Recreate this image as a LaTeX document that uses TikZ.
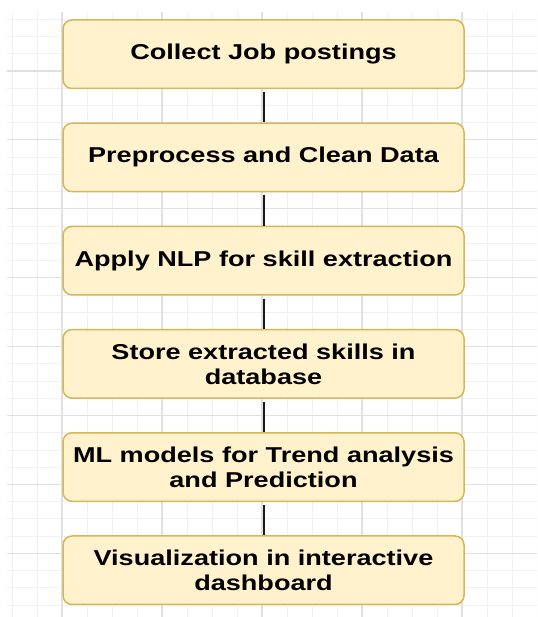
\documentclass[tikz,border=0pt]{standalone}
\usepackage{fontspec}
\newfontfamily\flowfont{Liberation Sans}[FakeStretch=1.26]
\usetikzlibrary{positioning}
\definecolor{cBox}{HTML}{FFF2CC}
\definecolor{cBorder}{HTML}{D6B656}
\definecolor{cGridMinor}{HTML}{F1F1F1}
\definecolor{cGridMajor}{HTML}{E0E0E0}
\definecolor{cLink}{HTML}{1A1A1A}
\tikzset{
  stepbox/.style={
    rectangle, rounded corners=9pt, draw=cBorder, fill=cBox, line width=1.5pt,
    minimum width=401pt, minimum height=68.5pt, inner sep=0pt,
    align=center, text=black, font=\flowfont\bfseries\fontsize{21.5}{25}\selectfont,
  },
  link/.style={draw=cLink, line width=2pt, shorten <=3pt},
  gridminor/.style={draw=cGridMinor, line width=0.8pt},
  gridmajor/.style={draw=cGridMajor, line width=1.1pt},
}

\begin{document}
\begin{tikzpicture}[x=1pt, y=1pt, node distance=33.2pt]
\useasboundingbox (0,0) rectangle (537,617);

% ===== background grid =====
\begin{scope}
  \clip (7,0) rectangle (537,605);
  \foreach \gx in {12,37,...,537}
    \draw[gridminor] (\gx,0) -- (\gx,605);
  \foreach \k in {-3,...,32}
    \draw[gridminor] (7,{546-17.225*\k}) -- (537,{546-17.225*\k});
  \foreach \gx in {62,162,...,462}
    \draw[gridmajor] (\gx,0) -- (\gx,605);
  \foreach \k in {0,...,7}
    \draw[gridmajor] (7,{546-68.9*\k}) -- (537,{546-68.9*\k});
\end{scope}

% ===== vertical flow =====
\node[stepbox] (collect) at (263.5,562.75) {Collect Job postings};
\node[stepbox, below=of collect] (clean) {Preprocess and Clean Data};
\node[stepbox, below=of clean] (nlp) {Apply NLP for skill extraction};
\node[stepbox, below=of nlp] (store) {Store extracted skills in\\ database};
\node[stepbox, below=of store] (trend) {ML models for Trend analysis\\ and Prediction};
\node[stepbox, below=of trend] (dash) {Visualization in interactive\\ dashboard};

% ===== links =====
\draw[link] (collect) -- (clean);
\draw[link] (clean) -- (nlp);
\draw[link] (nlp) -- (store);
\draw[link] (store) -- (trend);
\draw[link] (trend) -- (dash);

\end{tikzpicture}
\end{document}
